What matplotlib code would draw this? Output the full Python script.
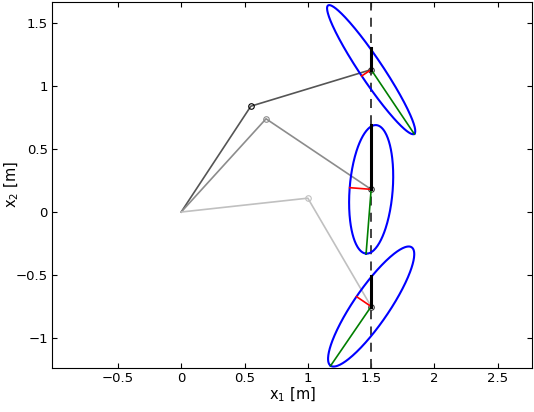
import numpy as np
import matplotlib
matplotlib.use("Agg")
import matplotlib.pyplot as plt

elbow_x = [0.55, 0.67, 1.0]
elbow_y = [0.84, 0.74, 0.11]
end_x = [1.5, 1.5, 1.5]
end_y = [1.13, 0.18, -0.75]
arm_colors = ["#555555", "#8c8c8c", "#c0c0c0"]
major_dx = [0.34, -0.04, -0.32]
major_dy = [-0.51, -0.51, -0.47]
minor_len = [0.09, 0.17, 0.14]
minor_sign = [1, -1, 1]
force_len = [0.17, 0.51, 0.24]

fig = plt.figure(figsize=(5.34, 4.12), dpi=100)
ax = fig.add_axes([52/534, 1-368/412, 480/534, 366/412])
ax.axvline(1.5, color="#333333", ls=(0, (5, 4)), lw=1.3)
for i in range(3):
    ax.plot([0, elbow_x[i], end_x[i]], [0, elbow_y[i], end_y[i]], color=arm_colors[i], lw=1.2)
    ax.plot([elbow_x[i]], [elbow_y[i]], 'o', mfc='none', mec='black' if i == 0 else arm_colors[i], ms=4, mew=0.8)
    ax.plot([end_x[i]], [end_y[i]], 'o', mfc='none', mec='#333333', ms=4, mew=0.8)
    cx, cy = end_x[i], end_y[i]
    M = np.array([major_dx[i], major_dy[i]])
    perp = np.array([M[1], -M[0]]) / np.hypot(*M) * minor_len[i] * minor_sign[i]
    if perp[0] > 0:
        perp = -perp
    t = np.linspace(0, 2*np.pi, 300)
    ex = cx + np.cos(t)*M[0] + np.sin(t)*perp[0]
    ey = cy + np.cos(t)*M[1] + np.sin(t)*perp[1]
    ax.plot(ex, ey, color="#0000ff", lw=1.5)
    ax.plot([cx, cx+M[0]], [cy, cy+M[1]], color="#007f00", lw=1.2)
    ax.plot([cx, cx+perp[0]], [cy, cy+perp[1]], color="#ff0000", lw=1.2)
    ax.plot([cx, cx], [cy, cy+force_len[i]], color="black", lw=2.2)
ax.set_xlim(-1.02, 2.77)
ax.set_ylim(-1.238, 1.667)
ax.set_xticks([-0.5, 0, 0.5, 1, 1.5, 2, 2.5])
ax.set_xticklabels(["\u22120.5", "0", "0.5", "1", "1.5", "2", "2.5"])
ax.set_yticks([-1, -0.5, 0, 0.5, 1, 1.5])
ax.set_yticklabels(["\u22121", "\u22120.5", "0", "0.5", "1", "1.5"])
ax.tick_params(direction="in", labelsize=9.5, top=True, right=True, pad=3)
ax.set_xlabel(r"x$_1$ [m]", fontsize=10.5, labelpad=0)
ax.set_ylabel(r"x$_2$ [m]", fontsize=10.5)
ax.yaxis.set_label_coords(-0.065, 0.5)
fig.savefig("out.png", dpi=100)
